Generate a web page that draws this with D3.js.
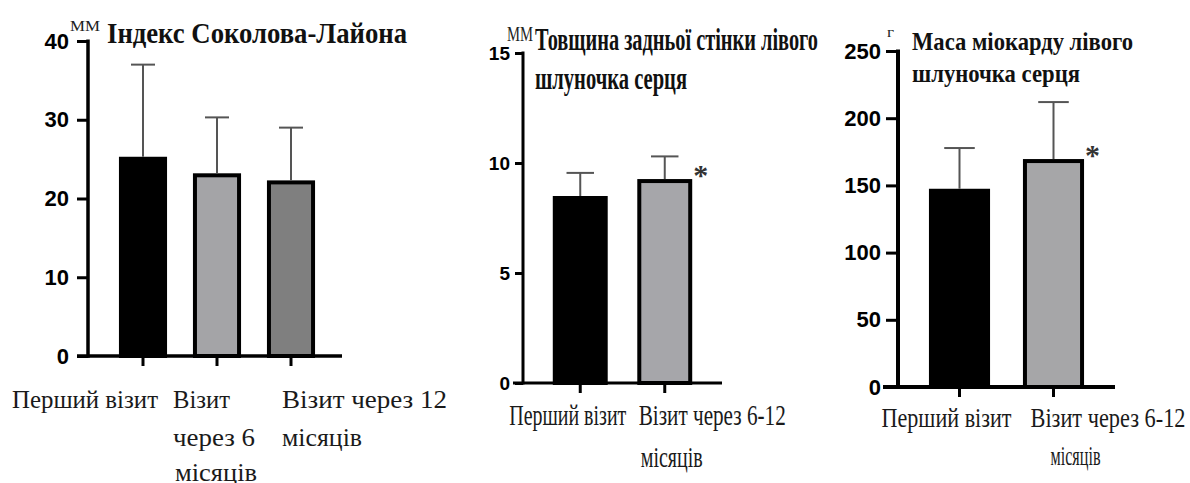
<!DOCTYPE html>
<html>
<head>
<meta charset="utf-8">
<script src="https://cdn.jsdelivr.net/npm/d3@7"></script>
<style>
  html, body { margin: 0; padding: 0; background: #fff; }
  svg { display: block; }
</style>
</head>
<body>
<svg id="chart" width="1190" height="483"></svg>
<script>
// ---------------- DATA ----------------
// Panel 1: Індекс Соколова-Лайона (мм)
const categories1 = ["Перший візит", "Візит через 6 місяців", "Візит через 12 місяців"];
const labelLines1 = [["Перший візит"], ["Візит", "через 6", "місяців"], ["Візит через 12", "місяців"]];
const means1 = [25.3, 23.2, 22.3];
const sd1 = [11.7, 7.1, 6.7];
const yTicks1 = [0, 10, 20, 30, 40];
const title1 = ["Індекс Соколова-Лайона"];
const unit1 = "ММ";
const signif1 = [false, false, false];

// Panel 2: Товщина задньої стінки лівого шлуночка серця (мм)
const categories2 = ["Перший візит", "Візит через 6-12 місяців"];
const labelLines2 = [["Перший візит"], ["Візит через 6-12", "місяців"]];
const means2 = [8.5, 9.27];
const sd2 = [1.05, 1.03];
const yTicks2 = [0, 5, 10, 15];
const title2 = ["Товщина задньої стінки лівого", "шлуночка серця"];
const unit2 = "ММ";
const signif2 = [false, true];

// Panel 3: Маса міокарду лівого шлуночка серця (г)
const categories3 = ["Перший візит", "Візит через 6-12 місяців"];
const labelLines3 = [["Перший візит"], ["Візит через 6-12", "місяців"]];
const means3 = [147.5, 169.6];
const sd3 = [30.3, 42.4];
const yTicks3 = [0, 50, 100, 150, 200, 250];
const title3 = ["Маса міокарду лівого", "шлуночка серця"];
const unit3 = "г";
const signif3 = [false, true];

// ---------------- LAYOUT / STYLE ----------------
const serif = "'Liberation Serif', 'Times New Roman', serif";
const sans = "'Liberation Sans', Arial, sans-serif";

const panels = [
  {
    cats: categories1, lines: labelLines1, means: means1, sd: sd1, ticks: yTicks1,
    title: title1, unit: unit1, signif: signif1,
    fills: ["#000000", "#a4a4a7", "#7f7f7f"],
    axisX: 88, y0: 356, yTop: 41, xStart: 77, xEnd: 342,
    band: [106, 328], axisW: 3.5, tickLen: 11, yFont: 22, yLabelGap: 19,
    barStroke: 4,
    labelFont: 25, labelBase: [408, 446, 481],
    labelPos: [[[-131, 146]], [[-44, 57], [-44, 82], [-42, 82]], [[-9, 165], [-9, 80]]],
    titleFont: 29, titlePos: [[107, 43, 300]],
    unitFont: 15, unitPos: [70, 31, 30]
  },
  {
    cats: categories2, lines: labelLines2, means: means2, sd: sd2, ticks: yTicks2,
    title: title2, unit: unit2, signif: signif2,
    fills: ["#000000", "#a6a6aa"],
    axisX: 523, y0: 383, yTop: 53, xStart: 513, xEnd: 722,
    band: [538, 707], axisW: 3, tickLen: 8, yFont: 19, yLabelGap: 13,
    barStroke: 4,
    labelFont: 30, labelBase: [425, 467],
    labelPos: [[[-71, 117]], [[-26, 147], [-24, 62]]],
    titleFont: 32, titlePos: [[535, 50, 283], [535, 89, 152]],
    unitFont: 21, unitPos: [507, 41, 26]
  },
  {
    cats: categories3, lines: labelLines3, means: means3, sd: sd3, ticks: yTicks3,
    title: title3, unit: unit3, signif: signif3,
    fills: ["#000000", "#a6a6a8"],
    axisX: 898, y0: 387, yTop: 51, xStart: 883, xEnd: 1115,
    band: [912.5, 1100.5], axisW: 4, tickLen: 12, yFont: 22, yLabelGap: 17,
    barStroke: 4,
    labelFont: 28, labelBase: [427, 465],
    labelPos: [[[-78, 130]], [[-23, 155], [-3, 50]]],
    titleFont: 25, titlePos: [[912, 50, 221], [912, 82, 168]],
    unitFont: 15, unitPos: [887, 37, 7]
  }
];

const svg = d3.select("#chart");

panels.forEach(p => {
  const g = svg.append("g");

  const y = d3.scaleLinear().domain([0, d3.max(p.ticks)]).range([p.y0, p.yTop]);
  const x = d3.scaleBand().domain(p.cats).range(p.band).paddingInner(0.35).paddingOuter(0.175);
  const bw = x.bandwidth();

  const data = p.cats.map((c, i) => ({ c, m: p.means[i], s: p.sd[i], fill: p.fills[i], sig: p.signif[i], i }));
  const sw = p.barStroke;

  // Bars
  g.selectAll("rect.bar").data(data).join("rect")
    .attr("class", "bar")
    .attr("x", d => x(d.c) + sw / 2)
    .attr("y", d => y(d.m) + sw / 2)
    .attr("width", bw - sw)
    .attr("height", d => y(0) - y(d.m) - sw / 2)
    .attr("fill", d => d.fill)
    .attr("stroke", "#000")
    .attr("stroke-width", sw);

  // Error bars (upper)
  const cx = d => x(d.c) + bw / 2;
  g.selectAll("line.err").data(data).join("line")
    .attr("x1", cx).attr("x2", cx)
    .attr("y1", d => y(d.m)).attr("y2", d => y(d.m + d.s))
    .attr("stroke", "#555").attr("stroke-width", 2);
  g.selectAll("line.cap").data(data).join("line")
    .attr("x1", d => cx(d) - bw * 0.25).attr("x2", d => cx(d) + bw * 0.25)
    .attr("y1", d => y(d.m + d.s)).attr("y2", d => y(d.m + d.s))
    .attr("stroke", "#555").attr("stroke-width", 2);

  // Significance asterisks
  g.selectAll("text.sig").data(data.filter(d => d.sig)).join("text")
    .attr("x", d => x(d.c) + bw + 1)
    .attr("y", d => y(d.m) + 6)
    .attr("font-family", serif).attr("font-weight", "bold").attr("font-size", 30).attr("fill", "#333")
    .text("*");

  // Y axis
  const yAxis = d3.axisLeft(y).tickValues(p.ticks).tickSize(p.tickLen).tickPadding(p.yLabelGap - p.tickLen);
  const ya = g.append("g").attr("transform", `translate(${p.axisX},0)`).call(yAxis);
  ya.select(".domain").remove();
  ya.selectAll(".tick line").attr("stroke", "#000").attr("stroke-width", 3);
  ya.selectAll(".tick text")
    .attr("font-family", sans).attr("font-weight", "bold").attr("font-size", p.yFont).attr("fill", "#000");
  g.append("line")
    .attr("x1", p.axisX).attr("x2", p.axisX)
    .attr("y1", p.yTop - 1.5).attr("y2", p.y0 + p.axisW / 2)
    .attr("stroke", "#000").attr("stroke-width", p.axisW);

  // X axis
  g.append("line")
    .attr("x1", p.xStart).attr("x2", p.xEnd)
    .attr("y1", p.y0).attr("y2", p.y0)
    .attr("stroke", "#000").attr("stroke-width", p.axisW);
  const xAxis = d3.axisBottom(x).tickSize(10).tickFormat("");
  const xa = g.append("g").attr("transform", `translate(0,${p.y0})`).call(xAxis);
  xa.select(".domain").remove();
  xa.selectAll(".tick line").attr("stroke", "#000").attr("stroke-width", 3);

  // Category labels (wrapped lines)
  p.cats.forEach((c, i) => {
    p.lines[i].forEach((ln, j) => {
      const [dx, len] = p.labelPos[i][j];
      g.append("text")
        .attr("x", x(c) + bw / 2 + dx)
        .attr("y", p.labelBase[j])
        .attr("font-family", serif).attr("font-size", p.labelFont).attr("fill", "#1a1a1a")
        .attr("textLength", len).attr("lengthAdjust", "spacingAndGlyphs")
        .text(ln);
    });
  });

  // Title
  p.title.forEach((t, j) => {
    const [tx, ty, tl] = p.titlePos[j];
    g.append("text")
      .attr("x", tx).attr("y", ty)
      .attr("font-family", serif).attr("font-weight", "bold").attr("font-size", p.titleFont).attr("fill", "#111")
      .attr("textLength", tl).attr("lengthAdjust", "spacingAndGlyphs")
      .text(t);
  });

  // Unit
  g.append("text")
    .attr("x", p.unitPos[0]).attr("y", p.unitPos[1])
    .attr("font-family", serif).attr("font-size", p.unitFont).attr("fill", "#222")
    .attr("textLength", p.unitPos[2]).attr("lengthAdjust", "spacingAndGlyphs")
    .text(p.unit);
});
</script>
</body>
</html>
